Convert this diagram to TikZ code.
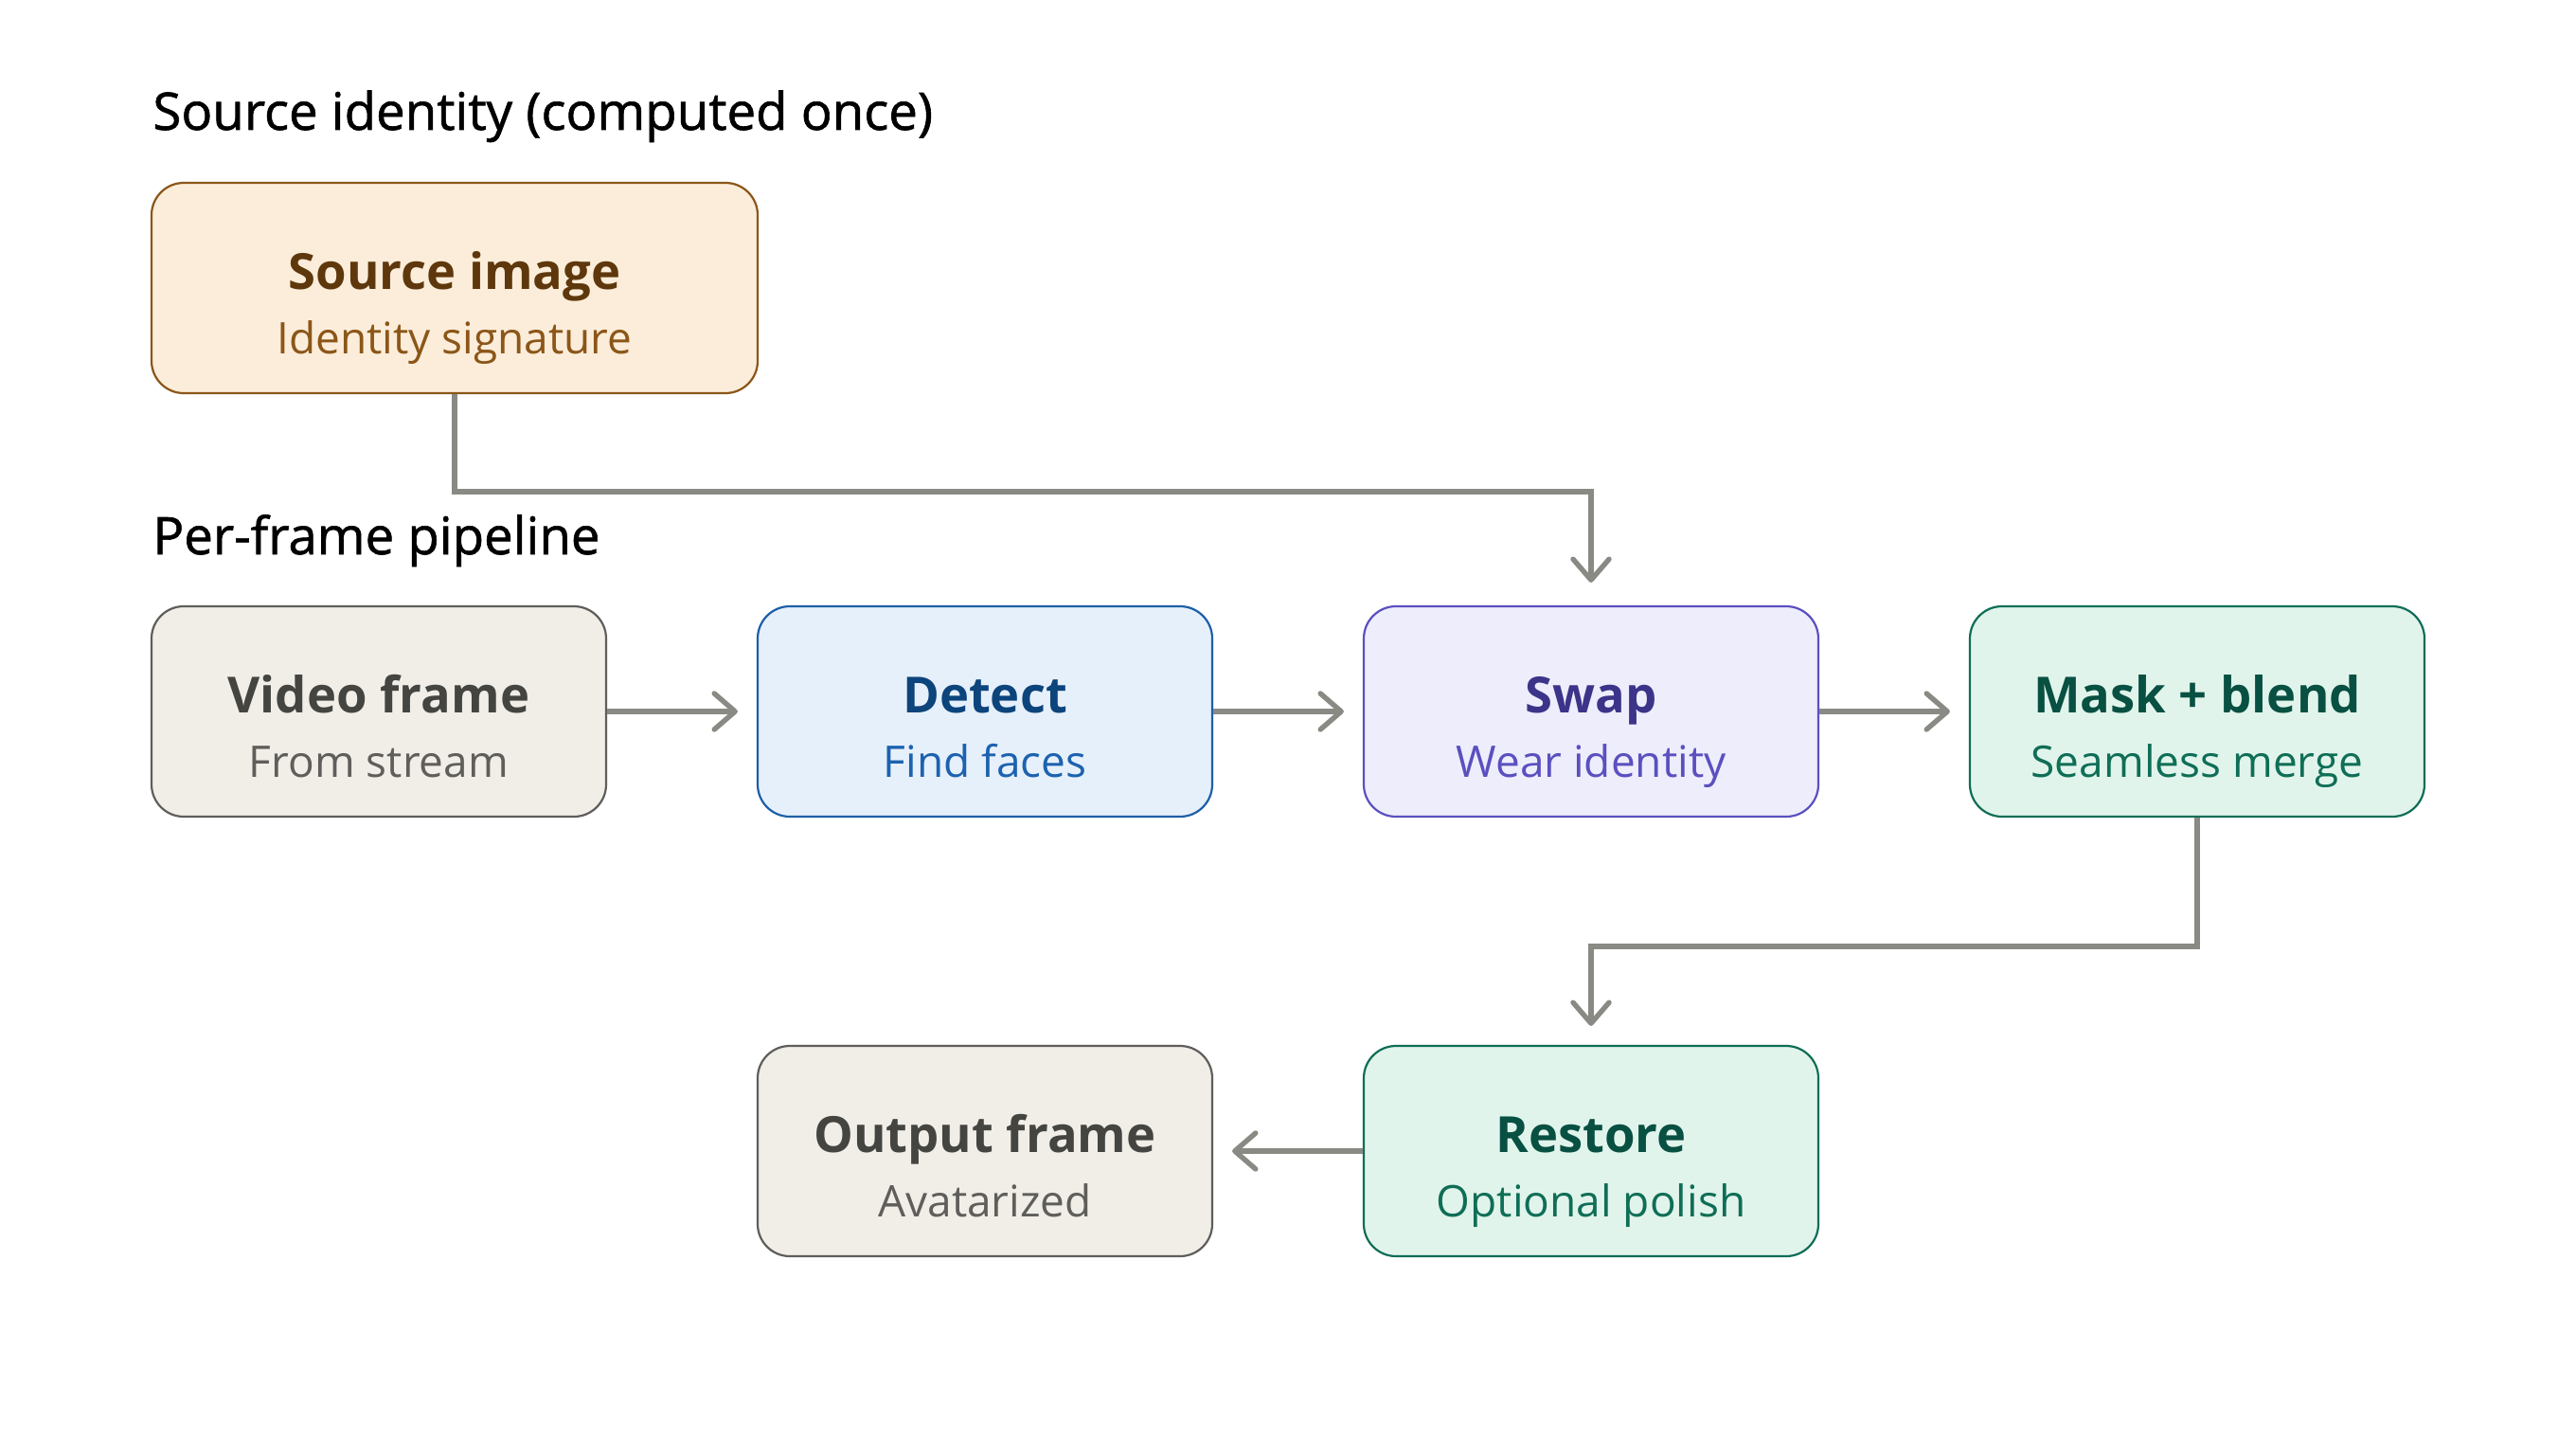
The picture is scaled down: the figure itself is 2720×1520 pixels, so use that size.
\documentclass[tikz,border=0pt]{standalone}
\usepackage{fontspec}
\setmainfont{Open Sans}
\newfontfamily\semifont{Open Sans}[FakeBold=1.1]
\usetikzlibrary{arrows.meta}
\definecolor{arrowgray}{HTML}{8A8A84}
\definecolor{srcfill}{HTML}{FBEDDA}
\definecolor{srcdraw}{HTML}{8B5618}
\definecolor{srcttl}{HTML}{5E380C}
\definecolor{srcsub}{HTML}{8B5618}
\definecolor{grfill}{HTML}{F1EEE8}
\definecolor{grdraw}{HTML}{5F5E5A}
\definecolor{grttl}{HTML}{444441}
\definecolor{grsub}{HTML}{5F5E5A}
\definecolor{blfill}{HTML}{E6F0FA}
\definecolor{bldraw}{HTML}{1D5FA8}
\definecolor{blttl}{HTML}{0C447C}
\definecolor{blsub}{HTML}{1C62B0}
\definecolor{pufill}{HTML}{EEEDFC}
\definecolor{pudraw}{HTML}{5A50BF}
\definecolor{puttl}{HTML}{3C3489}
\definecolor{pusub}{HTML}{5A50BF}
\definecolor{gnfill}{HTML}{E1F4EC}
\definecolor{gndraw}{HTML}{0F6E56}
\definecolor{gnttl}{HTML}{085041}
\definecolor{gnsub}{HTML}{0F6E56}
\tikzset{
  boxbase/.style={rectangle, rounded corners=17pt, minimum width=240pt, minimum height=111pt, line width=1.1pt, inner sep=0pt},
  srcbox/.style={boxbase, fill=srcfill, draw=srcdraw, minimum width=320pt},
  grbox/.style={boxbase, fill=grfill, draw=grdraw},
  blbox/.style={boxbase, fill=blfill, draw=bldraw},
  pubox/.style={boxbase, fill=pufill, draw=pudraw},
  gnbox/.style={boxbase, fill=gnfill, draw=gndraw},
  ttl/.style={anchor=base, inner sep=0pt, font=\fontsize{26.3}{32}\selectfont\bfseries},
  sub/.style={anchor=base, inner sep=0pt, font=\fontsize{23}{28}\selectfont},
  sect/.style={anchor=base west, inner sep=0pt, font=\fontsize{27.3}{32}\selectfont\semifont, text=black},
  arr/.style={draw=arrowgray, line width=2.7pt, -{Straight Barb[length=11pt, width=19pt, line cap=round, line join=round]}}
}
\begin{document}
\begin{tikzpicture}[x=0.5pt, y=-0.5pt]
\useasboundingbox (0,0) rectangle (2720,1520);
\fill[white] (0,0) rectangle (2720,1520);

\node[sect] (s1) at (161,137) {Source identity (computed once)};
\node[sect] (s2) at (161,585) {Per-frame pipeline};

\node[srcbox] (src) at (480,304) {};
\node[ttl, text=srcttl] (srct) at (480,305) {Source image};
\node[sub, text=srcsub] (srcs) at (480,373) {Identity signature};

\node[grbox] (vid) at (400,751) {};
\node[ttl, text=grttl] (vidt) at (400,752) {Video frame};
\node[sub, text=grsub] (vids) at (400,820) {From stream};

\node[blbox] (det) at (1040,751) {};
\node[ttl, text=blttl] (dett) at (1040,752) {Detect};
\node[sub, text=blsub] (dets) at (1040,820) {Find faces};

\node[pubox] (swp) at (1680,751) {};
\node[ttl, text=puttl] (swpt) at (1680,752) {Swap};
\node[sub, text=pusub] (swps) at (1680,820) {Wear identity};

\node[gnbox] (msk) at (2320,751) {};
\node[ttl, text=gnttl] (mskt) at (2320,752) {Mask + blend};
\node[sub, text=gnsub] (msks) at (2320,820) {Seamless merge};

\node[grbox] (out) at (1040,1215) {};
\node[ttl, text=grttl] (outt) at (1040,1216) {Output frame};
\node[sub, text=grsub] (outs) at (1040,1284) {Avatarized};

\node[gnbox] (rst) at (1680,1215) {};
\node[ttl, text=gnttl] (rstt) at (1680,1216) {Restore};
\node[sub, text=gnsub] (rsts) at (1680,1284) {Optional polish};

\coordinate (j1) at (0,519);
\coordinate (j2) at (0,999);

\draw[arr] (src.south) -- (src.south |- j1) -| ([yshift=12pt]swp.north);
\draw[arr] (vid.east) -- ([xshift=-10pt]det.west);
\draw[arr] (det.east) -- ([xshift=-10pt]swp.west);
\draw[arr] (swp.east) -- ([xshift=-10pt]msk.west);
\draw[arr] (msk.south) -- (msk.south |- j2) -| ([yshift=10pt]rst.north);
\draw[arr] (rst.west) -- ([xshift=10pt]out.east);
\end{tikzpicture}
\end{document}
